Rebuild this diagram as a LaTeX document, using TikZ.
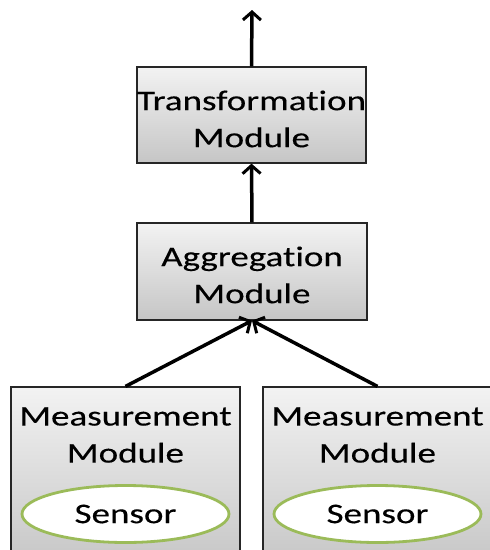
\documentclass[tikz,border=0pt]{standalone}
\usepackage{fontspec}
\setmainfont[FakeStretch=1.3,FakeBold=0.3,RawFeature={-liga;-dlig}]{Carlito}
\usetikzlibrary{arrows.meta,shapes.geometric}
\tikzset{
  modbox/.style={draw=black!85, line width=1.2pt, rectangle, top color=gray!10, bottom color=gray!45, inner sep=0pt},
  modtext/.style={align=center, font=\fontsize{28.5}{37}\selectfont, inner sep=0pt},
  sensor/.style={ellipse, draw={rgb,255:red,155;green,187;blue,89}, line width=2.8pt, fill=white, minimum width=207pt, minimum height=57pt, font=\fontsize{28.5}{37}\selectfont, inner sep=0pt},
  flow/.style={line width=3.5pt, -{Straight Barb[length=8pt,width=18pt,line width=3pt]}}
}
\begin{document}
\begin{tikzpicture}[x=1pt,y=-1pt]
\useasboundingbox (0,0) rectangle (490,550);
\clip (0,0) rectangle (490,550);
\fill[white] (0,0) rectangle (490,550);
\node[modbox, minimum width=229pt, minimum height=96pt] (T) at (251.5,115) {};
\node[modtext] (Tt) at (251.5,119) {Transformation\\Module};
\node[modbox, minimum width=230pt, minimum height=97pt] (A) at (252,271.5) {};
\node[modtext] (At) at (252,275) {Aggregation\\Module};
\node[modbox, minimum width=229pt, minimum height=180pt] (M1) at (125.5,477) {};
\node[modtext] (M1t) at (125.5,435) {Measurement\\Module};
\node[modbox, minimum width=229pt, minimum height=180pt] (M2) at (377.5,477) {};
\node[modtext] (M2t) at (377.5,435) {Measurement\\Module};
\node[sensor] (S1) at (125.5,514) {Sensor};
\node[sensor] (S2) at (377.5,514) {Sensor};
\coordinate (out) at (252,10);
\draw[flow] (T.north) -- (out);
\draw[flow] (A.north) -- (T.south);
\draw[flow] (M1.north) -- (A.south);
\draw[flow] (M2.north) -- (A.south);
\end{tikzpicture}
\end{document}
